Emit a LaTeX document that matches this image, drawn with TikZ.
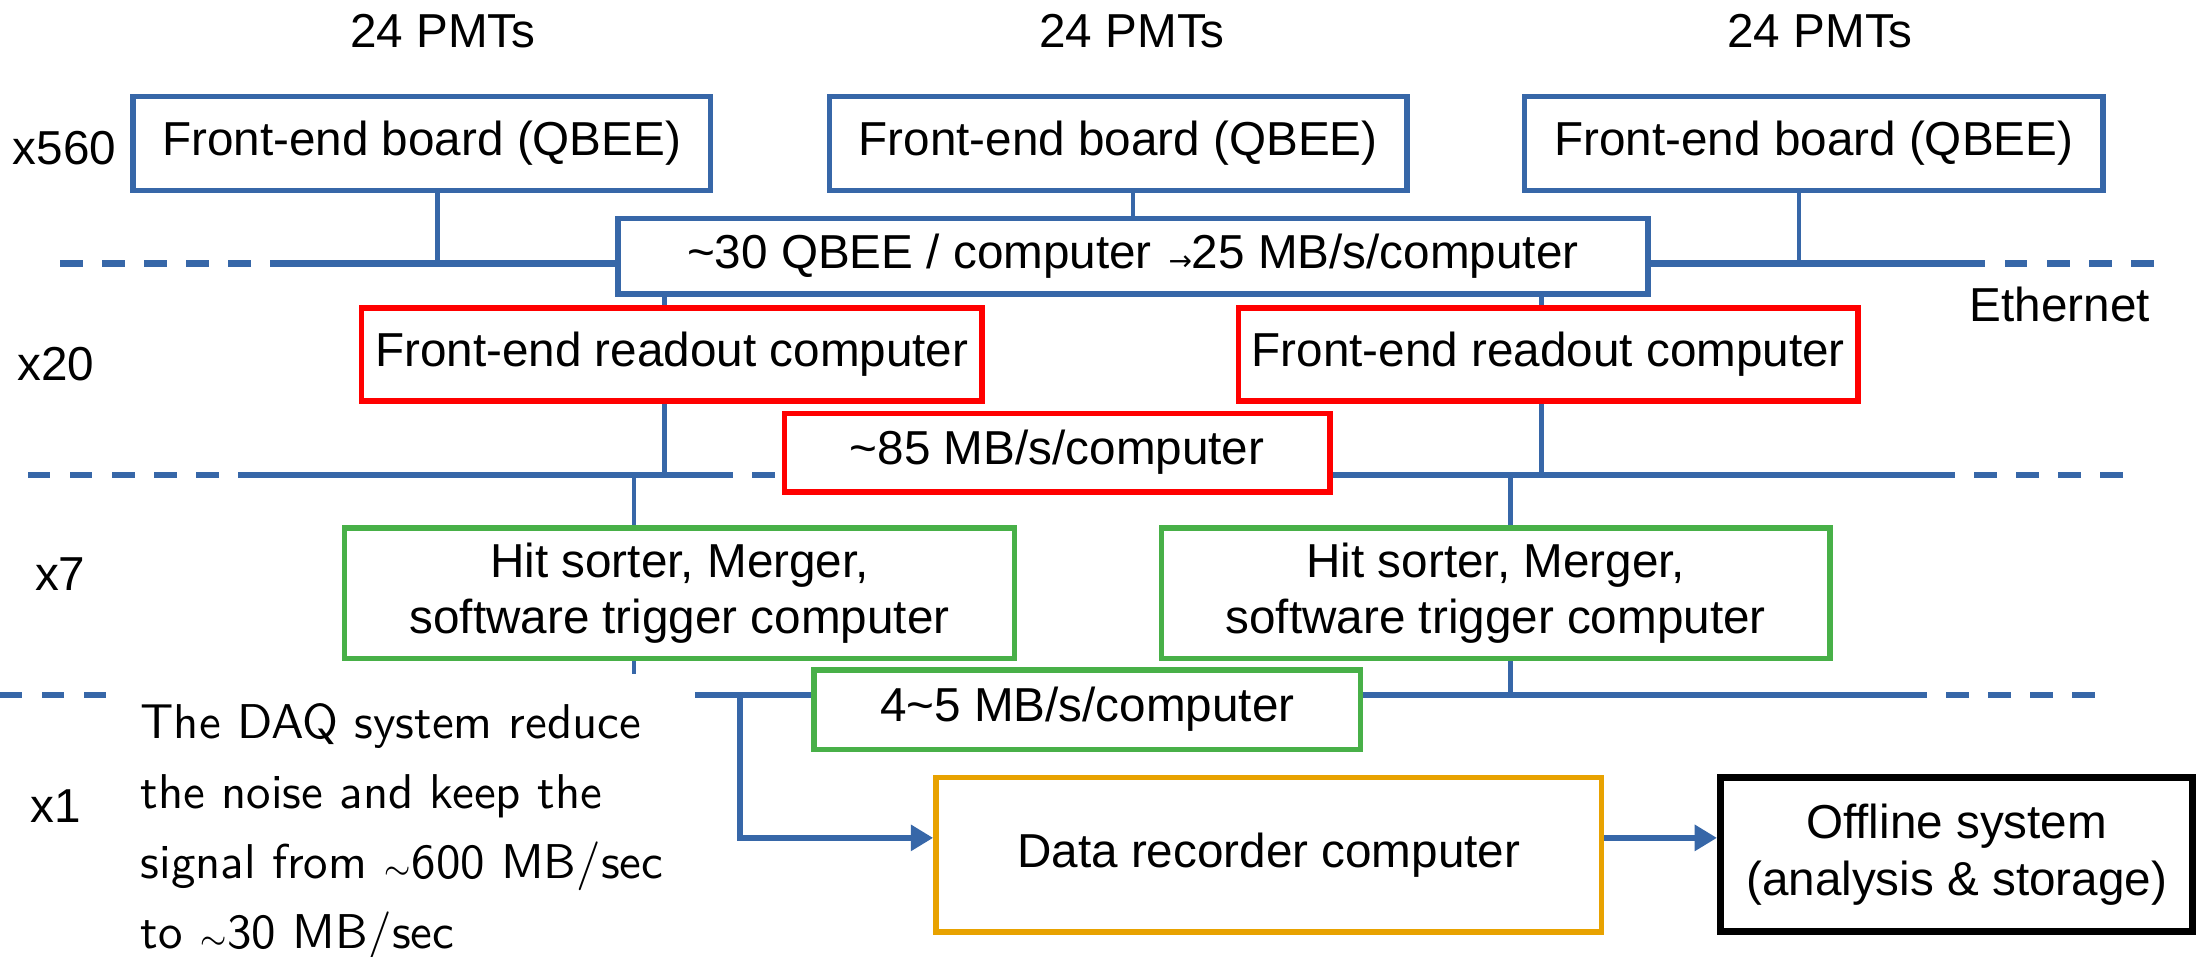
\documentclass[tikz,border=0pt]{standalone}
\usepackage{graphicx}
\usepackage{fontspec}
\setmainfont{Liberation Sans}
\newfontfamily\arrowfont{DejaVu Sans}
\usetikzlibrary{arrows.meta}
\definecolor{bl}{RGB}{55,103,168}
\definecolor{gr}{RGB}{72,176,72}
\definecolor{og}{RGB}{232,162,0}
\definecolor{rd}{RGB}{255,0,0}
\newcommand\daqfont{\sffamily\fontsize{10}{14.33}\selectfont}
\newcommand\smsim{{\fontsize{6.5}{6.5}\selectfont$\sim$}}
\begin{document}
\begin{tikzpicture}[x=0.5pt,y=-0.5pt,
  box/.style={draw, line width=2pt, fill=white, inner sep=0pt, align=center, font=\fontsize{17}{20}\selectfont},
  bus/.style={bl, line width=2.4pt},
  dbus/.style={bl, line width=2.4pt, dash pattern=on 8pt off 7pt},
  vline/.style={bl, line width=1.7pt},
  lbl/.style={font=\fontsize{17}{20}\selectfont, inner sep=0pt},
  arr/.style={bl, line width=2pt, -{Triangle[length=8pt,width=9pt]}}
]
\useasboundingbox (0,0) rectangle (1568,683);

% labels
\node[lbl] (p1) at (316,22) {24 PMTs};
\node[lbl] (p2) at (808,22) {24 PMTs};
\node[lbl] (p3) at (1299,22) {24 PMTs};
\node[lbl] (n560) at (46,106) {x560};
\node[lbl] (n20) at (40,260) {x20};
\node[lbl] (n7) at (43,410) {x7};
\node[lbl] (n1) at (40,575) {x1};
\node[lbl] (eth) at (1470,217) {Ethernet};

% boxes
\node[box, draw=bl, minimum width=206pt, minimum height=33.5pt] (q1) at (301,102.5) {Front-end board (QBEE)};
\node[box, draw=bl, minimum width=206pt, minimum height=33.5pt] (q2) at (798,102.5) {Front-end board (QBEE)};
\node[box, draw=bl, minimum width=206.5pt, minimum height=33.5pt] (q3) at (1294.5,102.5) {Front-end board (QBEE)};
\node[box, draw=bl, minimum width=367.5pt, minimum height=27pt] (c30) at (808.5,183)
  {\textasciitilde30 QBEE / computer\hspace{0.35em}{\arrowfont\fontsize{10}{10}\selectfont\raisebox{-0.5pt}{→}}25 MB/s/computer};
\node[box, draw=rd, minimum width=221.5pt, minimum height=33pt] (r1) at (479.5,253) {Front-end readout computer};
\node[box, draw=rd, minimum width=221pt, minimum height=33pt] (r2) at (1105,253) {Front-end readout computer};
\node[box, draw=rd, minimum width=194.5pt, minimum height=28pt] (c85) at (754.5,323) {\textasciitilde85 MB/s/computer};
\node[box, draw=gr, minimum width=239pt, minimum height=46.5pt] (g1) at (485,423.5) {Hit sorter, Merger,\\software trigger computer};
\node[box, draw=gr, minimum width=238.5pt, minimum height=46.5pt] (g2) at (1067.5,423.5) {Hit sorter, Merger,\\software trigger computer};
\node[box, draw=gr, minimum width=195pt, minimum height=28.5pt] (c45) at (776,506.5) {4\textasciitilde5 MB/s/computer};
\node[box, draw=og, minimum width=237.5pt, minimum height=55pt] (rec) at (905.5,610) {Data recorder computer};
\node[box, draw=black, line width=2.6pt, minimum width=168.5pt, minimum height=55pt] (off) at (1396.5,610) {Offline system\\(analysis \& storage)};

% DAQ note
\node[anchor=base west, inner sep=0pt] (daq) at (100,527)
  {\scalebox{1.744}{\daqfont\begin{tabular}[t]{@{}l@{}}The DAQ system reduce\\the noise and keep the\\signal from \smsim600 MB$/$sec\\to \smsim30 MB$/$sec\end{tabular}}};

% bus coordinates
\coordinate (b1L) at (43,188);  \coordinate (b1Ls) at (204,188);
\coordinate (b1Rs) at (1401,188); \coordinate (b1R) at (1542,188);
\coordinate (b2L) at (20,339);  \coordinate (b2Ls) at (180,339); \coordinate (b2Ld) at (507,339);
\coordinate (b2Rs) at (1379,339); \coordinate (b2R) at (1520,339);
\coordinate (b3L) at (0,496);  \coordinate (b3Le) at (78,496); \coordinate (b3M) at (496,496);
\coordinate (b3Rs) at (1359,496); \coordinate (b3R) at (1499,496);

% buses
\draw[dbus] (b1L) -- (b1Ls);
\draw[bus] (b1Ls) -- (c30.west |- b1Ls);
\draw[bus] (c30.east |- b1Rs) -- (b1Rs);
\draw[dbus] (b1Rs) -- (b1R);

\draw[dbus] (b2L) -- (b2Ls);
\draw[bus] (b2Ls) -- (b2Ld);
\draw[dbus] (b2Ld) -- (c85.west |- b2Ld);
\draw[bus] (c85.east |- b2Rs) -- (b2Rs);
\draw[dbus] (b2Rs) -- (b2R);

\draw[dbus] (b3L) -- (b3Le);
\draw[bus] (b3M) -- (c45.west |- b3M);
\draw[bus] (c45.east |- b3Rs) -- (b3Rs);
\draw[dbus] (b3Rs) -- (b3R);

% junction coordinates
\coordinate (j1) at (312,188);
\coordinate (j2) at (808.6,188);
\coordinate (j3) at (1284,188);
\coordinate (j4) at (474,339);
\coordinate (j5) at (1100,339);
\coordinate (j6) at (452.5,339);
\coordinate (j7) at (1078,339);
\coordinate (j8) at (528,496);
\coordinate (j9) at (1078,496);
\coordinate (st) at (452.5,481);
\coordinate (ay) at (0,598);

% verticals
\draw[vline] (q1.south -| j1) -- (j1);
\draw[vline] (q2.south -| j2) -- (c30.north -| j2);
\draw[vline] (q3.south -| j3) -- (j3);
\draw[vline] (c30.south -| j4) -- (r1.north -| j4);
\draw[vline] (c30.south -| j5) -- (r2.north -| j5);
\draw[vline] (r1.south -| j4) -- (j4);
\draw[vline] (r2.south -| j5) -- (j5);
\draw[vline] (j6) -- (g1.north -| j6);
\draw[vline] (j7) -- (g2.north -| j7);
\draw[vline] (g1.south -| st) -- (st);
\draw[vline] (g2.south -| j9) -- (j9);

% arrows
\draw[arr] (j8) |- (rec.west |- ay);
\draw[arr] (rec.east |- ay) -- (off.west |- ay);
\end{tikzpicture}
\end{document}
